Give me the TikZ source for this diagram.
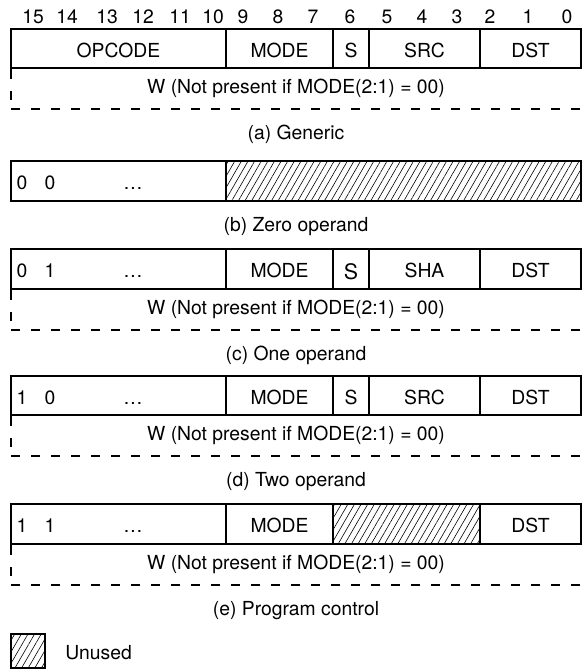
\documentclass[tikz,border=0pt]{standalone}
\usepackage{fontspec}
\setmainfont{TeX Gyre Heros}
\usetikzlibrary{patterns.meta}

\tikzset{
  frame/.style={line width=1.5pt, line join=miter},
  sep/.style={line width=1.5pt},
  wbottom/.style={line width=1.5pt, dash pattern=on 6.75pt off 8.25pt},
  wside/.style={line width=1.5pt, dash pattern=on 8.25pt off 9pt on 6.75pt off 60pt},
  hatch/.style={pattern={Lines[angle=60,distance=4.3pt,line width=0.45pt]}},
  lbl/.style={anchor=base, inner sep=0pt, font=\fontsize{14.5}{17}\selectfont},
}

% one W extension row below a word: left edge, bottom edge, label
\newcommand{\wrow}[3]{% #1 top y, #2 bottom y, #3 name
  \draw[wside] (11,#1) -- (11,#2);
  \draw[wbottom] (11,#2) -- (582,#2);
  \node[lbl] (#3) at (296,#1+25) {W (Not present if MODE(2:1) = 00)};
}

\begin{document}
\begin{tikzpicture}[x=0.75pt,y=-0.75pt]
\useasboundingbox (0,0) rectangle (582,671);

% bit numbers
\foreach \b/\x in {15/33,14/67,13/107,12/143,11/180,10/213,9/243,8/278,7/313,6/350,5/387,4/422,3/457,2/490,1/528,0/567}
  \node[lbl] (bit\b) at (\x,23) {\b};

% (a) Generic
\draw[frame] (11,29) rectangle (581,68);
\foreach \x in {226,333,369,480} \draw[sep] (\x,29) -- (\x,68);
\node[lbl] (aop)   at (118.5,57) {OPCODE};
\node[lbl] (amode) at (279.5,57) {MODE};
\node[lbl] (as)    at (351,57)   {S};
\node[lbl] (asrc)  at (424.5,57) {SRC};
\node[lbl] (adst)  at (530.5,57) {DST};
\wrow{68}{109}{aw}
\node[lbl] (acap) at (296,139) {(a) Generic};

% (b) Zero operand
\fill[hatch] (226,161) rectangle (581,201);
\draw[frame] (11,161) rectangle (581,201);
\draw[sep] (226,161) -- (226,201);
\node[lbl] (bd1) at (22,189) {0};
\node[lbl] (bd0) at (50,189) {0};
\node[lbl] (bdots) at (133,189) {\dots};
\node[lbl] (bcap) at (296,231) {(b) Zero operand};

% (c) One operand
\draw[frame] (11,249) rectangle (581,289);
\foreach \x in {226,333,369,480} \draw[sep] (\x,249) -- (\x,289);
\node[lbl] (cd1) at (22,277) {0};
\node[lbl] (cd0) at (50,277) {1};
\node[lbl] (cdots) at (133,277) {\dots};
\node[lbl] (cmode) at (279.5,277) {MODE};
\node[lbl] (cs)    at (351,279)   {\fontsize{16}{18}\selectfont S};
\node[lbl] (csha)  at (424.5,277) {SHA};
\node[lbl] (cdst)  at (530.5,277) {DST};
\wrow{289}{330}{cw}
\node[lbl] (ccap) at (296,360) {(c) One operand};

% (d) Two operand
\draw[frame] (11,376) rectangle (581,415);
\foreach \x in {226,333,369,480} \draw[sep] (\x,376) -- (\x,415);
\node[lbl] (dd1) at (22,404) {1};
\node[lbl] (dd0) at (50,404) {0};
\node[lbl] (ddots) at (133,404) {\dots};
\node[lbl] (dmode) at (279.5,404) {MODE};
\node[lbl] (ds)    at (351,404)   {S};
\node[lbl] (dsrc)  at (424.5,404) {SRC};
\node[lbl] (ddst)  at (530.5,404) {DST};
\wrow{415}{456}{dw}
\node[lbl] (dcap) at (296,486) {(d) Two operand};

% (e) Program control
\fill[hatch] (333,504) rectangle (480,544);
\draw[frame] (11,504) rectangle (581,544);
\foreach \x in {226,333,480} \draw[sep] (\x,504) -- (\x,544);
\node[lbl] (ed1) at (22,532) {1};
\node[lbl] (ed0) at (50,532) {1};
\node[lbl] (edots) at (133,532) {\dots};
\node[lbl] (emode) at (279.5,532) {MODE};
\node[lbl] (edst)  at (530.5,532) {DST};
\wrow{544}{585}{ew}
\node[lbl] (ecap) at (296,615) {(e) Program control};

% legend
\fill[hatch] (11,634) rectangle (45,668);
\draw[frame] (11,634) rectangle (45,668);
\node[lbl, anchor=base west] (unused) at (65,659) {Unused};
\end{tikzpicture}
\end{document}
